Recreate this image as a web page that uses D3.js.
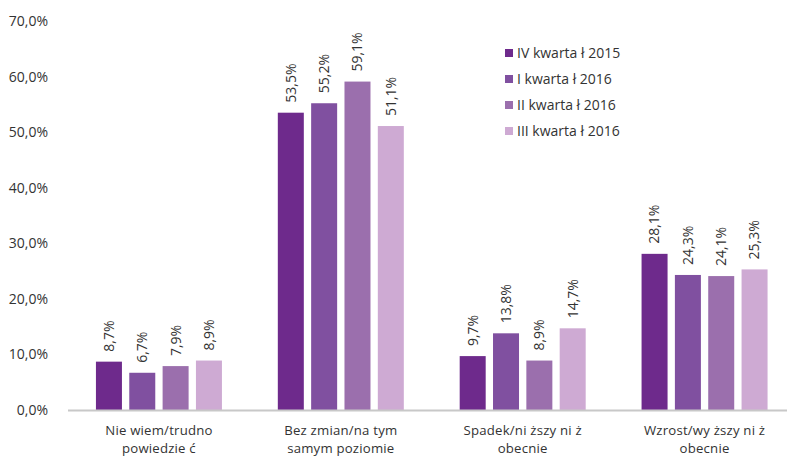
<!DOCTYPE html>
<html>
<head>
<meta charset="utf-8">
<script src="https://cdn.jsdelivr.net/npm/d3@7"></script>
<style>
  html, body { margin: 0; padding: 0; background: #fff; }
  svg text { font-family: "Open Sans", "Noto Sans", sans-serif; fill: #333; }
</style>
</head>
<body>
<svg id="chart" width="787" height="456"></svg>
<script>
(function() {

  // data
  const categories = [
    ['Nie wiem/trudno', 'powiedzie ć'],
    ['Bez zmian/na tym', 'samym poziomie'],
    ['Spadek/ni ższy ni ż', 'obecnie'],
    ['Wzrost/wy ższy ni ż', 'obecnie']
  ]
  const seriesNames = ['IV kwarta ł 2015', 'I kwarta ł 2016', 'II kwarta ł 2016', 'III kwarta ł 2016']
  const q4_2015 = [8.7, 53.5, 9.7, 28.1]
  const q1_2016 = [6.7, 55.2, 13.8, 24.3]
  const q2_2016 = [7.9, 59.1, 8.9, 24.1]
  const q3_2016 = [8.9, 51.1, 14.7, 25.3]
  const yTicks = [0, 10, 20, 30, 40, 50, 60, 70]

  const colors = ['#6e2a8c', '#8050a0', '#9b6fad', '#ceaad3']
  const seriesValues = [q4_2015, q1_2016, q2_2016, q3_2016]

  const
    left = 68,
    right = 795.5,
    top = 21,
    bottom = 410

  const svg = d3.select('#chart')
  const fmt = v => v.toFixed(1).replace('.', ',') + '%'

  const x0 = d3.scaleBand()
    .domain(d3.range(categories.length))
    .range([left, right])
    .padding(0)

  const groupWidth = 126
  const x1 = d3.scaleBand()
    .domain(d3.range(seriesNames.length))
    .range([0, groupWidth])
    .paddingInner(0.22)
    .paddingOuter(0)

  const y = d3.scaleLinear()
    .domain([0, 70])
    .range([bottom, top])

  // y tick labels (no axis line, no grid)
  const yAxis = d3.axisLeft(y)
    .tickValues(yTicks)
    .tickFormat(fmt)
    .tickSize(0)
    .tickPadding(0)

  const gy = svg.append('g')
    .attr('transform', 'translate(48,0)')
    .call(yAxis)
  gy.select('.domain').remove()
  gy.selectAll('text')
    .style('font-size', '14px')
    .style('font-family', '"Open Sans", "Noto Sans", sans-serif')
    .attr('fill', '#333')

  // bars
  const data = []
  categories.forEach((c, ci) => {
    seriesValues.forEach((vals, si) => {
      data.push({ ci: ci, si: si, v: vals[ci] })
    })
  })
  const barX = d => x0(d.ci) + (x0.bandwidth() - groupWidth) / 2 + x1(d.si)

  svg.append('g')
    .selectAll('rect')
    .data(data)
    .enter()
    .append('rect')
    .attr('x', barX)
    .attr('y', d => y(d.v))
    .attr('width', x1.bandwidth())
    .attr('height', d => bottom - y(d.v))
    .attr('fill', d => colors[d.si])

  // baseline
  svg.append('line')
    .attr('x1', left)
    .attr('x2', 787)
    .attr('y1', bottom + 0.5)
    .attr('y2', bottom + 0.5)
    .attr('stroke', '#c8c8c8')
    .attr('stroke-width', 2)

  // value labels, rotated
  svg.append('g')
    .selectAll('text')
    .data(data)
    .enter()
    .append('text')
    .attr('transform', d => 'translate(' + (barX(d) + x1.bandwidth() / 2) + ',' + (y(d.v) - 10) + ') rotate(-90)')
    .attr('dy', '0.35em')
    .attr('text-anchor', 'start')
    .style('font-size', '14px')
    .text(d => fmt(d.v))

  // category labels, one text per line
  const catLines = []
  categories.forEach((lines, i) => {
    lines.forEach((ln, k) => catLines.push({ i: i, k: k, t: ln }))
  })
  svg.append('g')
    .selectAll('text')
    .data(catLines)
    .enter()
    .append('text')
    .attr('x', d => x0(d.i) + x0.bandwidth() / 2)
    .attr('y', d => 430.5 + d.k * 18)
    .attr('dy', '0.35em')
    .attr('text-anchor', 'middle')
    .style('font-size', '13.2px')
    .style('letter-spacing', '0.2px')
    .text(d => d.t)

  // legend
  const legend = svg.append('g')
    .selectAll('g')
    .data(seriesNames)
    .enter()
    .append('g')
    .attr('transform', (d, i) => 'translate(505,' + (53 + i * 26) + ')')
  legend.append('rect')
    .attr('x', 0)
    .attr('y', -4)
    .attr('width', 8)
    .attr('height', 8)
    .attr('fill', (d, i) => colors[i])
  legend.append('text')
    .attr('x', 12)
    .attr('dy', '0.35em')
    .style('font-size', '14px')
    .text(d => d)

})();
</script>
</body>
</html>
